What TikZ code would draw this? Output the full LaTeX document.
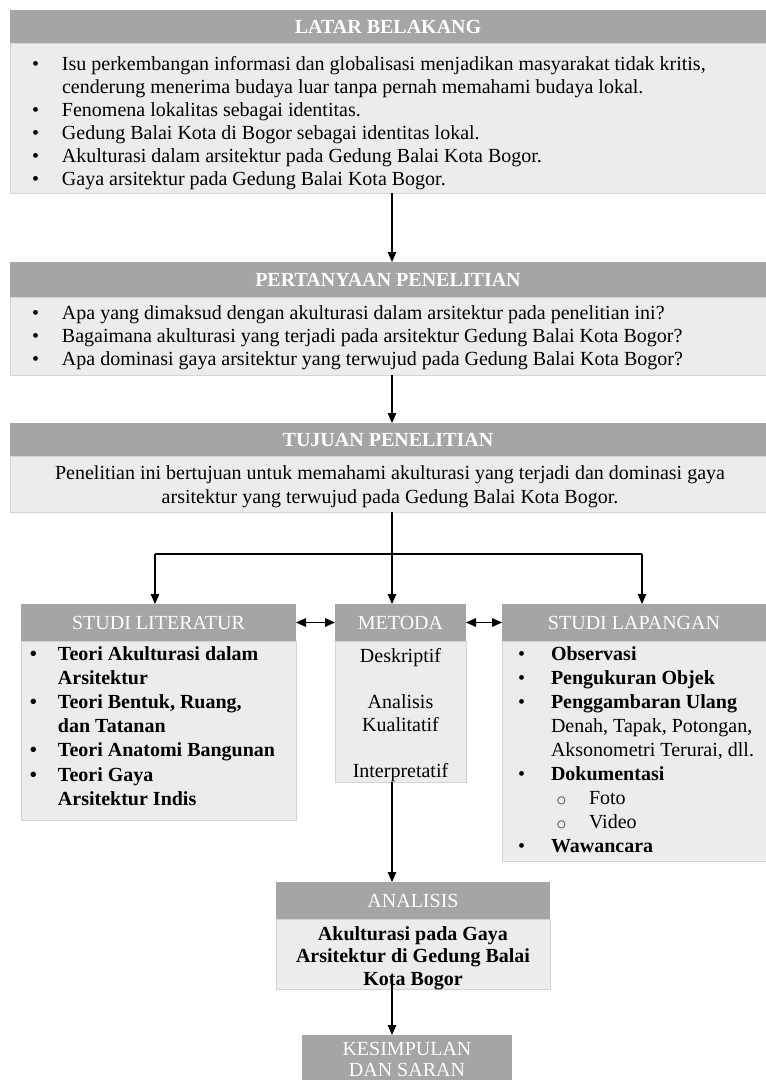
\documentclass[tikz,border=0pt]{standalone}
\usepackage{fontspec}
\setmainfont{Liberation Serif}
\newfontfamily\dejavu{DejaVu Sans}
\usetikzlibrary{arrows.meta,calc}
\definecolor{hdrc}{RGB}{165,165,165}
\definecolor{bodyc}{RGB}{236,236,236}
\definecolor{bordc}{RGB}{212,212,212}
\newcommand{\bulrow}[2]{\makebox[#1][l]{\textbullet}#2}
\newcommand{\controw}[2]{\hspace*{#1}#2}
\newcommand{\subrow}[1]{\hspace*{6pt}\makebox[32pt][l]{\raisebox{1pt}{\dejavu\fontsize{10}{12}\selectfont ○}}#1}
\tikzset{
  hdr/.style={rectangle, fill=hdrc, draw=none, inner sep=0pt, outer sep=0pt, anchor=north west, text=white, font=\fontsize{20}{23}\selectfont},
  hdrb/.style={hdr, font=\fontsize{20}{23}\selectfont\bfseries},
  bdy/.style={rectangle, fill=bodyc, draw=bordc, line width=0.7pt, inner sep=0pt, outer sep=0pt, anchor=north west},
  txt/.style={inner sep=0pt, outer sep=0pt, anchor=base west, text=black},
  arr/.style={line width=1.4pt, -{Triangle[length=10pt,width=8.5pt]}},
  darr/.style={line width=1.4pt, {Triangle[length=10pt,width=8.5pt]}-{Triangle[length=10pt,width=8.5pt]}},
  ln/.style={line width=1.4pt}
}
\begin{document}
\begin{tikzpicture}[x=1pt,y=-1pt]
\useasboundingbox (0,0) rectangle (766,1080);
\fill[white] (0,0) rectangle (766,1080);

% LATAR BELAKANG
\node[hdrb, minimum width=756pt, minimum height=33pt] (lhead) at (10,10) {LATAR BELAKANG};
\node[bdy, minimum width=756pt, minimum height=150pt] (lbody) at (10,43) {};
\node[txt, font=\fontsize{20}{23}\selectfont] (ltxt) at (32,70) {\begin{tabular}[t]{@{}l@{}}
\bulrow{30pt}{Isu perkembangan informasi dan globalisasi menjadikan masyarakat tidak kritis,}\\
\controw{30pt}{cenderung menerima budaya luar tanpa pernah memahami budaya lokal.}\\
\bulrow{30pt}{Fenomena lokalitas sebagai identitas.}\\
\bulrow{30pt}{Gedung Balai Kota di Bogor sebagai identitas lokal.}\\
\bulrow{30pt}{Akulturasi dalam arsitektur pada Gedung Balai Kota Bogor.}\\
\bulrow{30pt}{Gaya arsitektur pada Gedung Balai Kota Bogor.}
\end{tabular}};

% PERTANYAAN PENELITIAN
\node[hdrb, minimum width=756pt, minimum height=35pt] (phead) at (10,262) {PERTANYAAN PENELITIAN};
\node[bdy, minimum width=756pt, minimum height=78pt] (pbody) at (10,297) {};
\node[txt, font=\fontsize{20}{23}\selectfont] (ptxt) at (32,319) {\begin{tabular}[t]{@{}l@{}}
\bulrow{30pt}{Apa yang dimaksud dengan akulturasi dalam arsitektur pada penelitian ini?}\\
\bulrow{30pt}{Bagaimana akulturasi yang terjadi pada arsitektur Gedung Balai Kota Bogor?}\\
\bulrow{30pt}{Apa dominasi gaya arsitektur yang terwujud pada Gedung Balai Kota Bogor?}
\end{tabular}};

% TUJUAN PENELITIAN
\node[hdrb, minimum width=756pt, minimum height=33pt] (thead) at (10,423) {TUJUAN PENELITIAN};
\node[bdy, minimum width=756pt, minimum height=56pt] (tbody) at (10,456) {};
\node[txt, anchor=base, font=\fontsize{20}{24}\selectfont] (ttxt) at (390,479) {\begin{tabular}[t]{@{}c@{}}
Penelitian ini bertujuan untuk memahami akulturasi yang terjadi dan dominasi gaya\\
arsitektur yang terwujud pada Gedung Balai Kota Bogor.
\end{tabular}};

% STUDI LITERATUR
\node[hdr, minimum width=275pt, minimum height=37pt] (slhead) at (21,604) {STUDI LITERATUR};
\node[bdy, minimum width=275pt, minimum height=179pt] (slbody) at (21,641) {};
\node[txt, font=\fontsize{20}{24.2}\selectfont\bfseries] (sltxt) at (30,660) {\begin{tabular}[t]{@{}l@{}}
\bulrow{28pt}{Teori Akulturasi dalam}\\
\controw{28pt}{Arsitektur}\\
\bulrow{28pt}{Teori Bentuk, Ruang,}\\
\controw{28pt}{dan Tatanan}\\
\bulrow{28pt}{Teori Anatomi Bangunan}\\
\bulrow{28pt}{Teori Gaya}\\
\controw{28pt}{Arsitektur Indis}
\end{tabular}};

% METODA
\node[hdr, minimum width=131pt, minimum height=37pt] (mhead) at (335,604) {METODA};
\node[bdy, minimum width=131pt, minimum height=141pt] (mbody) at (335,641) {};
\node[txt, anchor=base, font=\fontsize{20}{23}\selectfont] (mtxt) at (400.5,662) {\begin{tabular}[t]{@{}c@{}}
Deskriptif\\
\\
Analisis\\
Kualitatif\\
\\
Interpretatif
\end{tabular}};

% STUDI LAPANGAN
\node[hdr, minimum width=264pt, minimum height=37pt] (lphead) at (502,604) {STUDI LAPANGAN};
\node[bdy, minimum width=264pt, minimum height=220pt] (lpbody) at (502,641) {};
\node[txt, font=\fontsize{20}{24}\selectfont] (lptxt) at (518,660) {\begin{tabular}[t]{@{}l@{}}
\bulrow{33pt}{\textbf{Observasi}}\\
\bulrow{33pt}{\textbf{Pengukuran Objek}}\\
\bulrow{33pt}{\textbf{Penggambaran Ulang}}\\
\controw{33pt}{Denah, Tapak, Potongan,}\\
\controw{33pt}{Aksonometri Terurai, dll.}\\
\bulrow{33pt}{\textbf{Dokumentasi}}\\
\controw{33pt}{\subrow{Foto}}\\
\controw{33pt}{\subrow{Video}}\\
\bulrow{33pt}{\textbf{Wawancara}}
\end{tabular}};

% ANALISIS
\node[hdr, minimum width=274pt, minimum height=37pt] (ahead) at (276,882) {ANALISIS};
\node[bdy, minimum width=274pt, minimum height=70pt] (abody) at (276,919) {};
\node[txt, anchor=base, font=\fontsize{20}{22.5}\selectfont\bfseries] (atxt) at (413,940) {\begin{tabular}[t]{@{}c@{}}
Akulturasi pada Gaya\\
Arsitektur di Gedung Balai\\
Kota Bogor
\end{tabular}};

% KESIMPULAN DAN SARAN
\node[hdr, minimum width=210pt, minimum height=60pt] (khead) at (302,1035) {};
\node[txt, anchor=base, text=white, font=\fontsize{20}{21.5}\selectfont] (ktxt) at (407,1055) {\begin{tabular}[t]{@{}c@{}}
KESIMPULAN\\
DAN SARAN
\end{tabular}};

% connectors
\coordinate (spine) at (392,0);
\coordinate (junc) at (392,554);
\coordinate (jl) at (155,554);
\coordinate (jr) at (642,554);
\draw[arr] (lbody.south -| spine) -- (phead.north -| spine);
\draw[arr] (pbody.south -| spine) -- (thead.north -| spine);
\draw[ln] (tbody.south -| spine) -- (junc);
\draw[ln] (jl) -- (jr);
\draw[arr] (jl) -- (slhead.north -| jl);
\draw[arr] (junc) -- (mhead.north -| spine);
\draw[arr] (jr) -- (lphead.north -| jr);
\draw[darr] (slhead.east) -- (mhead.west);
\draw[darr] (mhead.east) -- (lphead.west);
\draw[arr] (mbody.south -| spine) -- (ahead.north -| spine);
\draw[arr] ($(abody.south -| spine)+(0,-6)$) -- (khead.north -| spine);
\end{tikzpicture}
\end{document}
